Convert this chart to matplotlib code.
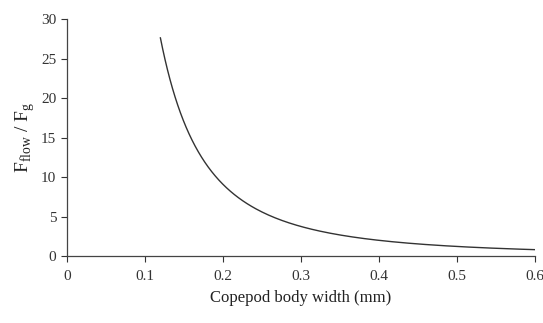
import numpy as np
from matplotlib import pyplot as plt

# values
width_mm = [0.12, 0.13, 0.14, 0.15, 0.16, 0.18, 0.20, 0.225, 0.25, 0.30,
            0.35, 0.40, 0.45, 0.50, 0.55, 0.60]
force_ratio = [27.3, 23.0, 19.8, 17.0, 15.0, 11.5, 9.2, 7.1, 5.6, 3.8,
               2.7, 1.95, 1.5, 1.2, 1.0, 0.85]
xticks = [0, 0.1, 0.2, 0.3, 0.4, 0.5, 0.6]
xticklabels = ['0', '0.1', '0.2', '0.3', '0.4', '0.5', '0.6']
yticks = [0, 5, 10, 15, 20, 25, 30]

plt.rcParams['font.family'] = ['Liberation Serif', 'DejaVu Serif']
plt.rcParams['mathtext.fontset'] = 'custom'
plt.rcParams['mathtext.rm'] = 'Liberation Serif'

fig = plt.figure(figsize=(5.43, 3.23), dpi=100)
ax = fig.add_axes([0.123, 0.207, 0.862, 0.734])

# smooth the read points in log space so the curve is drawn cleanly
lx = np.log(width_mm)
ly = np.log(force_ratio)
coef = np.polyfit(lx, ly, 2)
xs = np.linspace(lx[0], lx[-1], 200)
ax.plot(np.exp(xs), np.exp(np.polyval(coef, xs)), color='#333333', lw=1.0)

ax.set_xlim(0, 0.6)
ax.set_ylim(0, 30)
ax.set_xticks(xticks)
ax.set_xticklabels(xticklabels)
ax.set_yticks(yticks)
for s in ['top', 'right']:
    ax.spines[s].set_visible(False)
for s in ['left', 'bottom']:
    ax.spines[s].set_color('#444444')
    ax.spines[s].set_linewidth(0.9)
ax.tick_params(axis='both', labelsize=11, colors='#333333', length=4, width=0.8)
ax.tick_params(axis='x', pad=6)

ax.set_xlabel('Copepod body width (mm)', fontsize=12, color='#222222', labelpad=5)
ax.set_ylabel(r'F$_{\rm flow}$ / F$_{\rm g}$', fontsize=14, color='#222222', labelpad=3)

fig.savefig('out.png', dpi=100)
